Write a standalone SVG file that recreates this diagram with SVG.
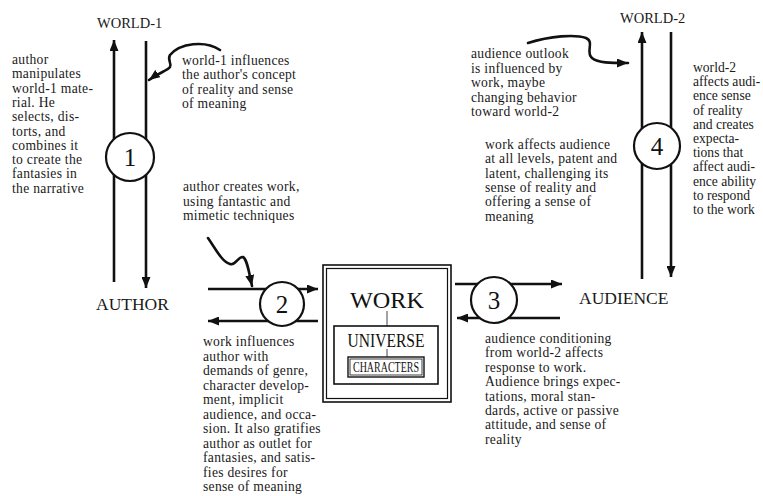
<svg xmlns="http://www.w3.org/2000/svg" width="763" height="496" viewBox="0 0 763 496">
<style>
.t{font-family:"Liberation Serif","Times New Roman",serif;font-size:13.6px;letter-spacing:0.3px;fill:#1a1a1a}
.lbl{font-family:"Liberation Serif","Times New Roman",serif;font-size:17.5px;fill:#1a1a1a}
.wl{font-family:"Liberation Serif","Times New Roman",serif;font-size:14.5px;fill:#1a1a1a}
.num{font-family:"Liberation Serif","Times New Roman",serif;font-size:25px;fill:#111;text-anchor:middle}
.ln{stroke:#111;stroke-width:2.6;fill:none}
.sq{stroke:#111;stroke-width:2.6;fill:none;stroke-linecap:round;stroke-linejoin:round}
.circ{fill:#fff;stroke:#111;stroke-width:2.2}
.box{fill:none;stroke:#111;stroke-width:1.6}
</style>
<defs>
<marker id="ah" markerUnits="userSpaceOnUse" markerWidth="12" markerHeight="9" refX="11" refY="4.5" orient="auto">
<path d="M0,0 L11,4.5 L0,9 z" fill="#111"/>
</marker>
</defs>
<rect width="763" height="496" fill="#fff"/>

<g id="connectors">
<line class="ln" x1="114" y1="282" x2="114" y2="40" marker-end="url(#ah)"/>
<line class="ln" x1="146" y1="41" x2="146" y2="288" marker-end="url(#ah)"/>
<line class="ln" x1="642" y1="279" x2="642" y2="32" marker-end="url(#ah)"/>
<line class="ln" x1="671" y1="32" x2="671" y2="277" marker-end="url(#ah)"/>
<line class="ln" x1="208" y1="289" x2="318" y2="289" marker-end="url(#ah)"/>
<line class="ln" x1="318" y1="321" x2="208" y2="321" marker-end="url(#ah)"/>
<line class="ln" x1="455" y1="284" x2="562" y2="284" marker-end="url(#ah)"/>
<line class="ln" x1="560" y1="318" x2="457" y2="318" marker-end="url(#ah)"/>
<path class="sq" d="M220 50 C205 40,180 43,170 55 C167 60,172 63,170 67 C167 71,160 72,149 80" marker-end="url(#ah)"/>
<path class="sq" d="M208 238 C215 248,222 262,230 264 C236 266,238 256,243 257 C247 259,249 272,252 286" marker-end="url(#ah)"/>
<path class="sq" d="M528 43 C550 36,575 34,586 38 C595 42,585 52,592 58 C598 63,610 63,628 63" marker-end="url(#ah)"/>
</g>

<g id="circle1">
<circle class="circ" cx="130" cy="157" r="24"/>
<text class="num" x="130" y="166">1</text>
</g>
<g id="circle2">
<circle class="circ" cx="282" cy="304" r="22"/>
<text class="num" x="282" y="313">2</text>
</g>
<g id="circle3">
<circle class="circ" cx="494" cy="300" r="23"/>
<text class="num" x="494" y="309">3</text>
</g>
<g id="circle4">
<circle class="circ" cx="657" cy="146" r="23"/>
<text class="num" x="657" y="155">4</text>
</g>

<g id="world1"><text class="wl" x="97" y="28">WORLD-1</text></g>
<g id="world2"><text class="wl" x="620" y="23">WORLD-2</text></g>
<g id="author"><text class="lbl" x="96" y="310">AUTHOR</text></g>
<g id="audience"><text class="lbl" x="579" y="304">AUDIENCE</text></g>

<g id="work">
<rect class="box" x="323" y="265" width="128" height="137"/>
<rect class="box" x="326.5" y="268.5" width="121" height="130" style="stroke-width:1.2"/>
<text x="387" y="308" text-anchor="middle" textLength="74" lengthAdjust="spacingAndGlyphs" style="font-family:'Liberation Serif',serif;font-size:23px;fill:#111">WORK</text>
<line x1="387" y1="311" x2="387" y2="326" stroke="#444" stroke-width="1"/>
</g>
<g id="universe">
<rect class="box" x="334" y="326" width="104" height="58"/>
<text x="386" y="347" text-anchor="middle" textLength="77" lengthAdjust="spacingAndGlyphs" style="font-family:'Liberation Serif',serif;font-size:18px;fill:#111">UNIVERSE</text>
<line x1="387" y1="349" x2="387" y2="357" stroke="#444" stroke-width="1"/>
</g>
<g id="characters">
<rect class="box" x="348" y="357" width="76" height="20" style="stroke-width:1.4"/>
<rect class="box" x="350" y="359" width="72" height="16" style="stroke-width:0.8"/>
<text x="386" y="371.5" text-anchor="middle" textLength="66" lengthAdjust="spacingAndGlyphs" style="font-family:'Liberation Serif',serif;font-size:14px;fill:#111">CHARACTERS</text>
</g>

<g id="note-author-manipulates">
<text class="t">
<tspan x="12" y="64">author</tspan>
<tspan x="12" y="78.3">manipulates</tspan>
<tspan x="12" y="92.6">world-1 mate-</tspan>
<tspan x="12" y="106.9">rial. He</tspan>
<tspan x="12" y="121.2">selects, dis-</tspan>
<tspan x="12" y="135.5">torts, and</tspan>
<tspan x="12" y="149.8">combines it</tspan>
<tspan x="12" y="164.1">to create the</tspan>
<tspan x="12" y="178.4">fantasies in</tspan>
<tspan x="12" y="192.7">the narrative</tspan>
</text>
</g>
<g id="note-world1-influences">
<text class="t">
<tspan x="182" y="64.5">world-1 influences</tspan>
<tspan x="182" y="79">the author's concept</tspan>
<tspan x="182" y="93.5">of reality and sense</tspan>
<tspan x="182" y="108">of meaning</tspan>
</text>
</g>
<g id="note-author-creates">
<text class="t">
<tspan x="183" y="191">author creates work,</tspan>
<tspan x="183" y="205.5">using fantastic and</tspan>
<tspan x="183" y="220">mimetic techniques</tspan>
</text>
</g>
<g id="note-work-influences">
<text class="t">
<tspan x="203" y="346">work influences</tspan>
<tspan x="203" y="360.5">author with</tspan>
<tspan x="203" y="375">demands of genre,</tspan>
<tspan x="203" y="389.5">character develop-</tspan>
<tspan x="203" y="404">ment, implicit</tspan>
<tspan x="203" y="418.5">audience, and occa-</tspan>
<tspan x="203" y="433">sion. It also gratifies</tspan>
<tspan x="203" y="447.5">author as outlet for</tspan>
<tspan x="203" y="462">fantasies, and satis-</tspan>
<tspan x="203" y="476.5">fies desires for</tspan>
<tspan x="203" y="491">sense of meaning</tspan>
</text>
</g>
<g id="note-audience-outlook">
<text class="t">
<tspan x="471" y="58">audience outlook</tspan>
<tspan x="471" y="72.5">is influenced by</tspan>
<tspan x="471" y="87">work, maybe</tspan>
<tspan x="471" y="101.5">changing behavior</tspan>
<tspan x="471" y="116">toward world-2</tspan>
</text>
</g>
<g id="note-work-affects">
<text class="t">
<tspan x="485" y="149">work affects audience</tspan>
<tspan x="485" y="163.3">at all levels, patent and</tspan>
<tspan x="485" y="177.6">latent, challenging its</tspan>
<tspan x="485" y="191.9">sense of reality and</tspan>
<tspan x="485" y="206.2">offering a sense of</tspan>
<tspan x="485" y="220.5">meaning</tspan>
</text>
</g>
<g id="note-world2-affects">
<text class="t" style="letter-spacing:0">
<tspan x="693" y="72">world-2</tspan>
<tspan x="693" y="86.2">affects audi-</tspan>
<tspan x="693" y="100.4">ence sense</tspan>
<tspan x="693" y="114.6">of reality</tspan>
<tspan x="693" y="128.8">and creates</tspan>
<tspan x="693" y="143">expecta-</tspan>
<tspan x="693" y="157.2">tions that</tspan>
<tspan x="693" y="171.4">affect audi-</tspan>
<tspan x="693" y="185.6">ence ability</tspan>
<tspan x="693" y="199.8">to respond</tspan>
<tspan x="693" y="214">to the work</tspan>
</text>
</g>
<g id="note-audience-conditioning">
<text class="t">
<tspan x="485" y="343">audience conditioning</tspan>
<tspan x="485" y="357.4">from world-2 affects</tspan>
<tspan x="485" y="371.8">response to work.</tspan>
<tspan x="485" y="386.2">Audience brings expec-</tspan>
<tspan x="485" y="400.6">tations, moral stan-</tspan>
<tspan x="485" y="415">dards, active or passive</tspan>
<tspan x="485" y="429.4">attitude, and sense of</tspan>
<tspan x="485" y="443.8">reality</tspan>
</text>
</g>
</svg>
